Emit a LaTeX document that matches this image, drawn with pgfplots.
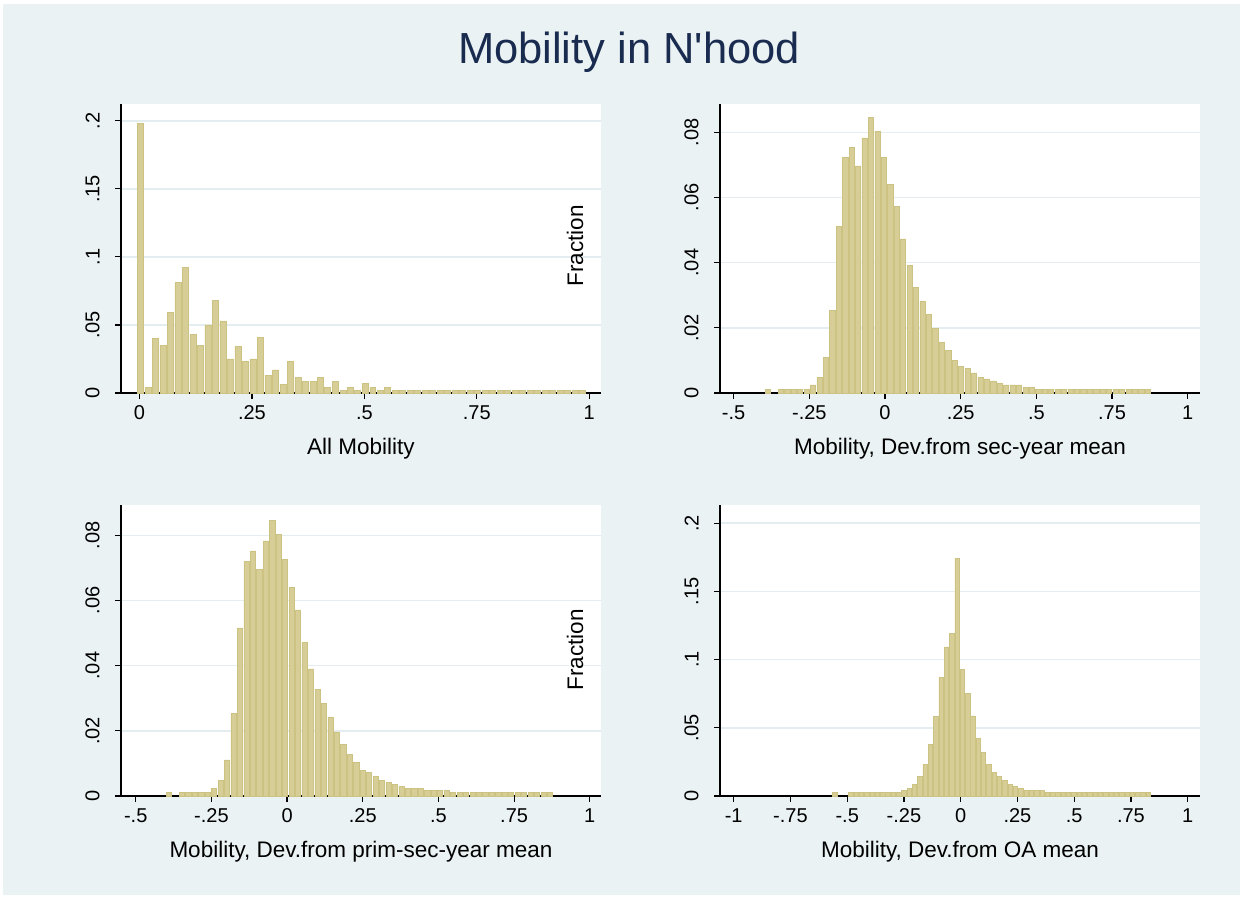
\documentclass[border=0pt]{standalone}
\usepackage{pgfplots}
\pgfplotsset{compat=1.18}
\usepackage{fontspec}
\setmainfont{Liberation Sans}
\definecolor{bgc}{RGB}{234,242,243}
\definecolor{gridc}{RGB}{228,237,239}
\definecolor{barfill}{RGB}{214,206,150}
\definecolor{baredge}{RGB}{204,195,131}
\definecolor{titlec}{RGB}{26,43,80}
\pgfplotsset{
  stpanel/.style={
    scale only axis, width=240pt, height=144.5pt,
    axis lines*=left,
    axis line style={black, line width=0.6pt},
    tick style={black, line width=0.6pt},
    tick align=outside, major tick length=3pt,
    ymin=0, ymajorgrids, grid style={gridc, line width=0.8pt},
    axis background/.style={fill=white},
    scaled y ticks=false, scaled x ticks=false,
    tick label style={font=\fontsize{10}{12}\selectfont},
    /pgf/number format/assume math mode=true,
    xticklabel style={anchor=north, inner sep=0pt},
    yticklabel style={rotate=90, anchor=south, inner sep=0pt},
    xticklabel shift=3pt, yticklabel shift=7.5pt,
    xlabel style={font=\fontsize{11.25}{13}\selectfont, at={(axis description cs:0.5,0)}, anchor=center, yshift=-28pt},
    ybar,
  },
  stbar/.style={fill=barfill, draw=baredge, line width=0.3pt},
}
\begin{document}
\begin{tikzpicture}
\fill[white] (0,0) rectangle (621.5pt,451pt);
\fill[bgc] (1.5pt,3.5pt) rectangle (620pt,449pt);
\node[font=\fontsize{21.75}{24}\selectfont, text=titlec] at (314.5pt,425pt) {Mobility in N\textquotesingle hood};

% Panel 1
\begin{axis}[stpanel, at={(60.5pt,254.5pt)}, anchor=south west,
  xmin=-0.0411, xmax=1.0262, ymax=0.2123,
  xtick={0,0.25,0.5,0.75,1}, xticklabels={0,.25,.5,.75,1},
  ytick={0,0.05,0.1,0.15,0.2}, yticklabels={0,.05,.1,.15,.2},
  xlabel={All Mobility}, bar width=0.0133]
\addplot[stbar] coordinates {
(0.0020,0.198) (0.0187,0.004) (0.0353,0.040) (0.0520,0.035) (0.0687,0.059)
(0.0854,0.081) (0.1020,0.092) (0.1187,0.043) (0.1354,0.035) (0.1520,0.050)
(0.1687,0.068) (0.1854,0.053) (0.2020,0.025) (0.2187,0.034) (0.2354,0.023)
(0.2520,0.025) (0.2687,0.041) (0.2854,0.013) (0.3021,0.017) (0.3187,0.0066)
(0.3354,0.023) (0.3521,0.0115) (0.3687,0.0083) (0.3854,0.0083) (0.4021,0.0115)
(0.4187,0.0042) (0.4354,0.0083) (0.4521,0.0022) (0.4688,0.0042) (0.4854,0.0022)
(0.5021,0.0071) (0.5188,0.0042) (0.5354,0.0022) (0.5521,0.0042) (0.5688,0.0018)
(0.5854,0.0018) (0.6021,0.0018) (0.6188,0.0018) (0.6355,0.0018) (0.6521,0.0018)
(0.6688,0.0018) (0.6855,0.0018) (0.7021,0.0018) (0.7188,0.0018) (0.7355,0.0018)
(0.7521,0.0018) (0.7688,0.0018) (0.7855,0.0018) (0.8022,0.0018) (0.8188,0.0018)
(0.8355,0.0018) (0.8522,0.0018) (0.8688,0.0018) (0.8855,0.0018) (0.9022,0.0018)
(0.9188,0.0018) (0.9355,0.0018) (0.9522,0.0018) (0.9688,0.0018) (0.9855,0.0018)
};
\end{axis}

% Panel 2
\begin{axis}[stpanel, at={(360pt,254.5pt)}, anchor=south west,
  xmin=-0.5451, xmax=1.0406, ymax=0.0887,
  xtick={-0.5,-0.25,0,0.25,0.5,0.75,1}, xticklabels={-.5,-.25,0,.25,.5,.75,1},
  ytick={0,0.02,0.04,0.06,0.08}, yticklabels={0,.02,.04,.06,.08},
  xlabel={Mobility, Dev.from sec-year mean}, bar width=0.0171]
\addplot[stbar] coordinates {
(-0.3865,0.0012) (-0.3440,0.0012) (-0.3227,0.0012) (-0.3015,0.0012) (-0.2802,0.0012)
(-0.2589,0.0012) (-0.2377,0.0025) (-0.2164,0.0049) (-0.1952,0.0110) (-0.1739,0.0254)
(-0.1526,0.0511) (-0.1314,0.0722) (-0.1101,0.0753) (-0.0889,0.0697) (-0.0676,0.0783)
(-0.0463,0.0846) (-0.0251,0.0803) (-0.0038,0.0722) (0.0174,0.0640) (0.0387,0.0572)
(0.0600,0.0473) (0.0812,0.0392) (0.1025,0.0323) (0.1237,0.0280) (0.1450,0.0241)
(0.1663,0.0198) (0.1875,0.0155) (0.2088,0.0130) (0.2300,0.0099) (0.2513,0.0081)
(0.2726,0.0075) (0.2938,0.0062) (0.3151,0.0049) (0.3363,0.0043) (0.3576,0.0037)
(0.3789,0.0031) (0.4001,0.0025) (0.4214,0.0025) (0.4426,0.0025) (0.4639,0.0018)
(0.4852,0.0018) (0.5064,0.0012) (0.5277,0.0012) (0.5489,0.0012) (0.5702,0.0012)
(0.5915,0.0012) (0.6127,0.0012) (0.6340,0.0012) (0.6552,0.0012) (0.6765,0.0012)
(0.6978,0.0012) (0.7190,0.0012) (0.7403,0.0012) (0.7615,0.0012) (0.7828,0.0012)
(0.8041,0.0012) (0.8253,0.0012) (0.8466,0.0012) (0.8678,0.0012)
};
\end{axis}

% Panel 3
\begin{axis}[stpanel, at={(60.5pt,53pt)}, anchor=south west, height=145.5pt,
  xmin=-0.5487, xmax=1.037, ymax=0.0893,
  xtick={-0.5,-0.25,0,0.25,0.5,0.75,1}, xticklabels={-.5,-.25,0,.25,.5,.75,1},
  ytick={0,0.02,0.04,0.06,0.08}, yticklabels={0,.02,.04,.06,.08},
  xlabel={Mobility, Dev.from prim-sec-year mean}, bar width=0.0171]
\addplot[stbar] coordinates {
(-0.3902,0.0010) (-0.3475,0.0010) (-0.3262,0.0010) (-0.3049,0.0010) (-0.2835,0.0010)
(-0.2622,0.0010) (-0.2409,0.0024) (-0.2196,0.0047) (-0.1982,0.0111) (-0.1769,0.0253)
(-0.1556,0.0516) (-0.1342,0.0720) (-0.1129,0.0752) (-0.0916,0.0695) (-0.0702,0.0783)
(-0.0489,0.0845) (-0.0276,0.0802) (-0.0063,0.0726) (0.0151,0.0639) (0.0364,0.0571)
(0.0577,0.0472) (0.0791,0.0390) (0.1004,0.0328) (0.1217,0.0285) (0.1431,0.0241)
(0.1644,0.0197) (0.1857,0.0159) (0.2070,0.0128) (0.2284,0.0104) (0.2497,0.0079)
(0.2710,0.0073) (0.2924,0.0061) (0.3137,0.0047) (0.3350,0.0041) (0.3564,0.0036)
(0.3777,0.0029) (0.3990,0.0024) (0.4203,0.0023) (0.4417,0.0023) (0.4630,0.0016)
(0.4843,0.0016) (0.5057,0.0016) (0.5270,0.0016) (0.5483,0.0010) (0.5697,0.0010)
(0.5910,0.0010) (0.6123,0.0010) (0.6336,0.0010) (0.6550,0.0010) (0.6763,0.0010)
(0.6976,0.0010) (0.7190,0.0010) (0.7403,0.0010) (0.7616,0.0010) (0.7830,0.0010)
(0.8043,0.0010) (0.8256,0.0010) (0.8469,0.0010) (0.8683,0.0010)
};
\end{axis}

% Panel 4
\begin{axis}[stpanel, at={(360pt,53pt)}, anchor=south west, height=145.5pt,
  xmin=-1.0604, xmax=1.0542, ymax=0.2134,
  xtick={-1,-0.75,-0.5,-0.25,0,0.25,0.5,0.75,1}, xticklabels={-1,-.75,-.5,-.25,0,.25,.5,.75,1},
  ytick={0,0.05,0.1,0.15,0.2}, yticklabels={0,.05,.1,.15,.2},
  xlabel={Mobility, Dev.from OA mean}, bar width=0.0194]
\addplot[stbar] coordinates {
(-0.5544,0.0024) (-0.4842,0.0024) (-0.4608,0.0024) (-0.4374,0.0024) (-0.4140,0.0024)
(-0.3906,0.0024) (-0.3672,0.0024) (-0.3438,0.0024) (-0.3204,0.0024) (-0.2970,0.0024)
(-0.2736,0.0024) (-0.2502,0.0039) (-0.2268,0.0056) (-0.2034,0.0085) (-0.1800,0.0144)
(-0.1566,0.0232) (-0.1332,0.0378) (-0.1098,0.0585) (-0.0864,0.0868) (-0.0630,0.1093)
(-0.0396,0.1195) (-0.0162,0.1744) (0.0072,0.0927) (0.0306,0.0751) (0.0540,0.0588)
(0.0774,0.0424) (0.1008,0.0322) (0.1242,0.0232) (0.1476,0.0173) (0.1710,0.0144)
(0.1944,0.0115) (0.2178,0.0085) (0.2412,0.0068) (0.2646,0.0054) (0.2880,0.0039)
(0.3114,0.0039) (0.3348,0.0039) (0.3582,0.0039) (0.3816,0.0024) (0.4050,0.0024)
(0.4284,0.0024) (0.4518,0.0024) (0.4752,0.0024) (0.4986,0.0024) (0.5220,0.0024)
(0.5454,0.0024) (0.5688,0.0024) (0.5922,0.0024) (0.6156,0.0024) (0.6390,0.0024)
(0.6624,0.0024) (0.6858,0.0024) (0.7092,0.0024) (0.7326,0.0024) (0.7560,0.0024)
(0.7794,0.0024) (0.8028,0.0024) (0.8262,0.0024)
};
\end{axis}

\node[rotate=90, font=\fontsize{11.25}{13}\selectfont] at (287.5pt,328pt) {Fraction};
\node[rotate=90, font=\fontsize{11.25}{13}\selectfont] at (287.5pt,126pt) {Fraction};
\end{tikzpicture}
\end{document}
